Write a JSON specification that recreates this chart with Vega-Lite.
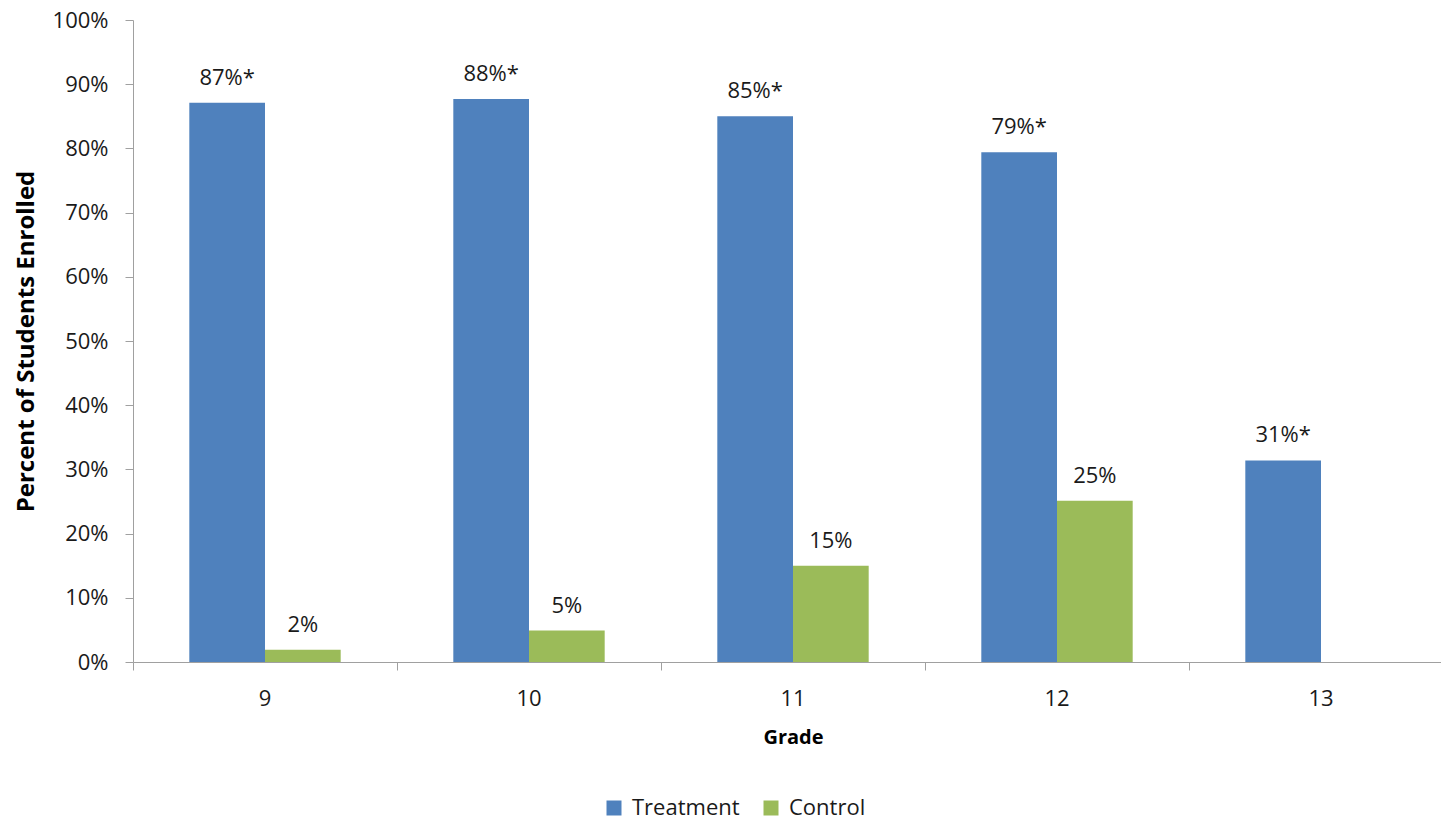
{
  "$schema": "https://vega.github.io/schema/vega-lite/v6.json",
  "autosize": {"type": "none"},
  "padding": {"left": 133, "top": 20, "right": 0, "bottom": 160},
  "width": 1308,
  "height": 642,
  "background": "white",
  "config": {
    "font": "Open Sans",
    "view": {"stroke": null},
    "axis": {
      "domainColor": "#a0a0a0",
      "tickColor": "#a0a0a0",
      "tickSize": 8,
      "labelFontSize": 22,
      "labelColor": "#1a1a1a",
      "titleFontWeight": "bold",
      "titleColor": "#000000",
      "grid": false
    }
  },
  "data": {
    "values": [
      {"grade": 9, "group": "Treatment", "pct": 0.871, "sig": true},
      {"grade": 9, "group": "Control", "pct": 0.019, "sig": false},
      {"grade": 10, "group": "Treatment", "pct": 0.877, "sig": true},
      {"grade": 10, "group": "Control", "pct": 0.049, "sig": false},
      {"grade": 11, "group": "Treatment", "pct": 0.85, "sig": true},
      {"grade": 11, "group": "Control", "pct": 0.15, "sig": false},
      {"grade": 12, "group": "Treatment", "pct": 0.794, "sig": true},
      {"grade": 12, "group": "Control", "pct": 0.251, "sig": false},
      {"grade": 13, "group": "Treatment", "pct": 0.314, "sig": true}
    ]
  },
  "transform": [
    {"calculate": "format(datum.pct, '.0%') + (datum.sig ? '*' : '')", "as": "label"}
  ],
  "encoding": {
    "x": {
      "field": "grade",
      "type": "ordinal",
      "title": "Grade",
      "scale": {"range": [0, 1320], "paddingInner": 0, "paddingOuter": 0},
      "axis": {"labelAngle": 0, "bandPosition": 0, "labelPadding": 18, "titlePadding": 18, "titleX": 660, "titleFontSize": 20}
    },
    "xOffset": {
      "field": "group",
      "type": "nominal",
      "sort": ["Treatment", "Control"],
      "scale": {"paddingInner": 0, "paddingOuter": 0.744}
    },
    "y": {
      "field": "pct",
      "type": "quantitative",
      "title": "Percent of Students Enrolled",
      "scale": {"domain": [0, 1], "nice": false},
      "axis": {"format": ".0%", "values": [0, 0.1, 0.2, 0.3, 0.4, 0.5, 0.6, 0.7, 0.8, 0.9, 1], "labelPadding": 17, "titlePadding": 14, "titleFontSize": 24}
    }
  },
  "layer": [
    {
      "mark": {"type": "bar"},
      "encoding": {
        "color": {
          "field": "group",
          "type": "nominal",
          "scale": {"domain": ["Treatment", "Control"], "range": ["#4F81BD", "#9BBB59"]},
          "legend": {
            "title": null,
            "orient": "none",
            "direction": "horizontal",
            "legendX": 470,
            "legendY": 777,
            "symbolType": "square",
            "symbolSize": 225,
            "symbolStrokeWidth": 0,
            "labelFontSize": 22,
            "labelColor": "#1a1a1a",
            "labelOffset": 7,
            "columnPadding": 20
          }
        }
      }
    },
    {
      "mark": {"type": "text", "dy": -18, "baseline": "alphabetic", "fontSize": 22, "color": "#1a1a1a"},
      "encoding": {"text": {"field": "label"}}
    }
  ]
}
